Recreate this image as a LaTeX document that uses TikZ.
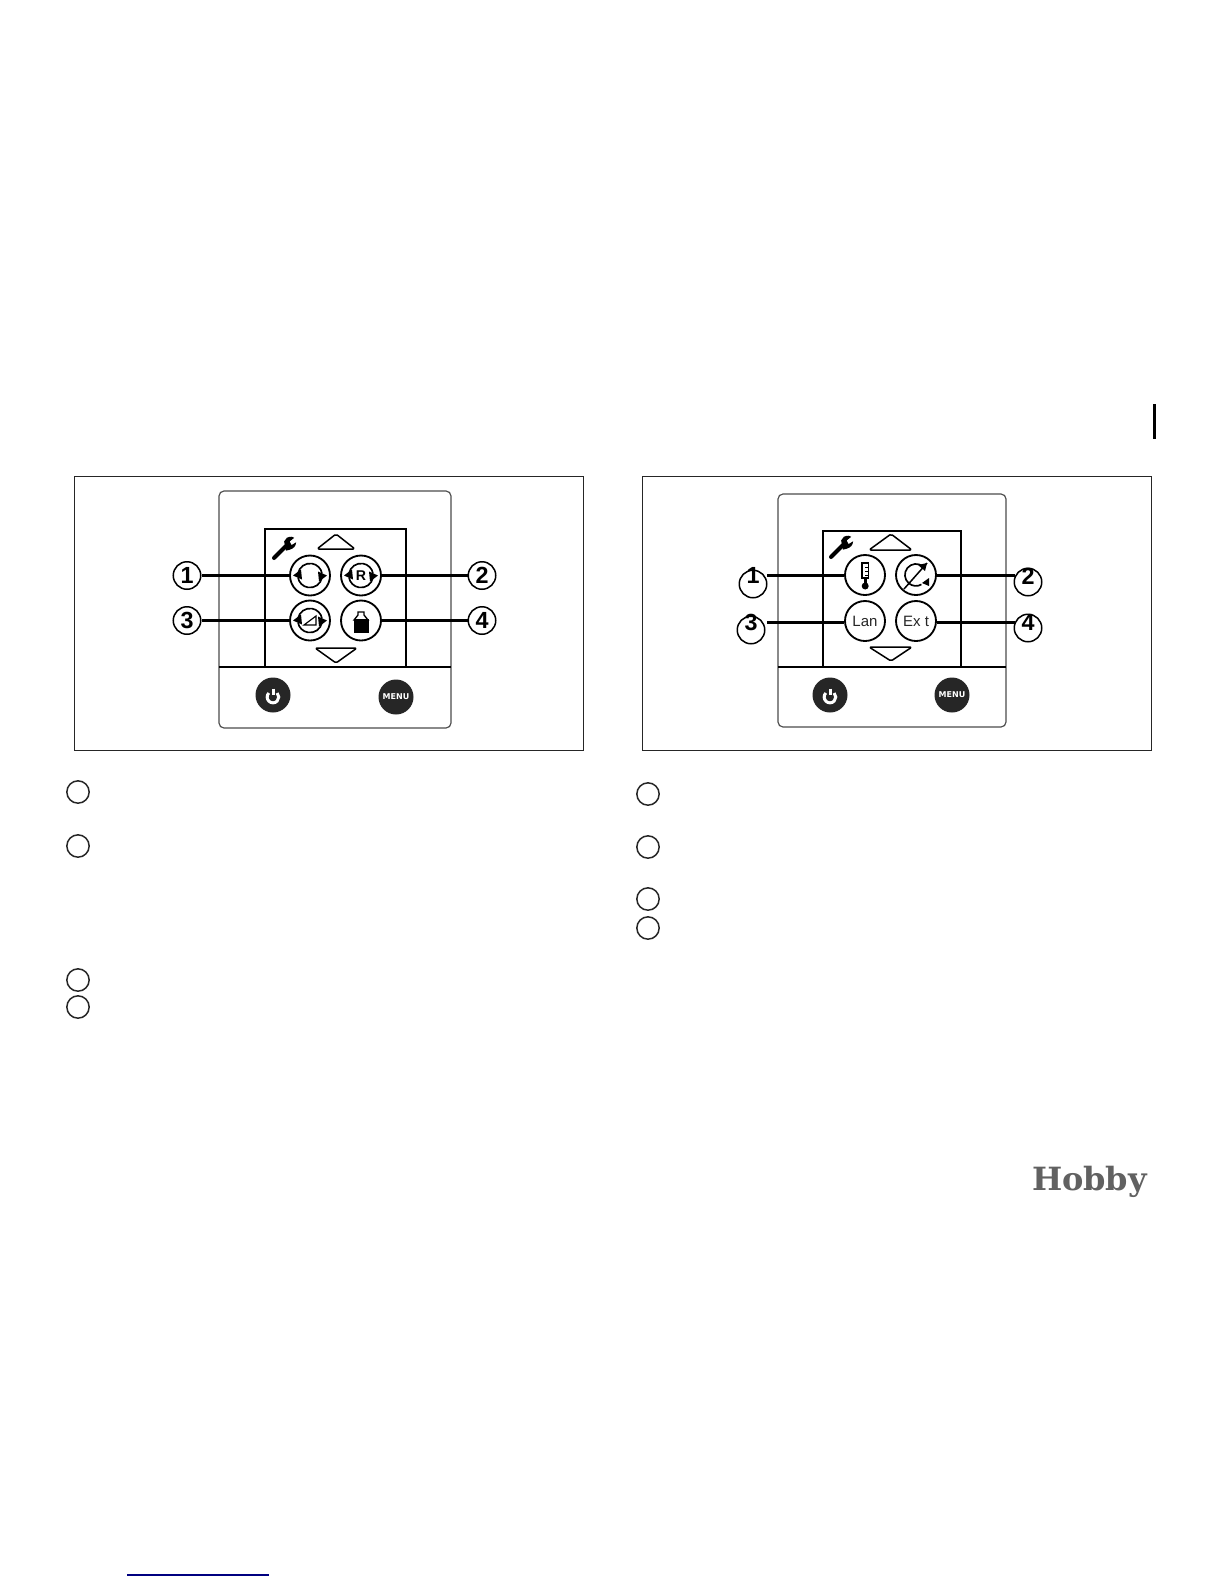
\documentclass[tikz,border=0pt]{standalone}
\usepackage{fontspec}
\setmainfont{Liberation Sans}
\newfontfamily\hobbyfont{DejaVu Serif}
\newfontfamily\menufont{DejaVu Sans}
\tikzset{
  x=0.6pt,y=-0.6pt,
  frame/.style={draw=black!85,line width=0.7pt},
  device/.style={draw=black!70,line width=0.7pt,rounded corners=3pt},
  screen/.style={draw=black,line width=1.2pt},
  keybtn/.style={circle,draw=black,line width=1.1pt,minimum size=24pt,inner sep=0pt,fill=white},
  numcirc/.style={circle,draw=black,line width=0.9pt,minimum size=16.5pt,inner sep=0pt,font=\bfseries\fontsize{14}{14}\selectfont},
  emptycirc/.style={circle,draw=black!85,line width=0.9pt,minimum size=13.4pt,inner sep=0pt},
  leader/.style={draw=black,line width=1.7pt},
  darkbtn/.style={circle,fill=black!85,minimum size=21pt,inner sep=0pt,text=white},
  tri/.style={draw=black,line width=0.9pt,rounded corners=1pt,line join=round},
  spin/.style={draw=black,line width=1pt},
  spinhead/.style={fill=black},
  wrench/.style={draw=black,line width=2.4pt,line cap=round},
  nobox/.style={inner sep=0pt,outer sep=0pt},
  menutext/.style={font=\menufont\bfseries\fontsize{4.8}{4.8}\selectfont},
  keytext/.style={font=\fontsize{9}{9}\selectfont,text=black!85},
  digit/.style={inner sep=0pt,outer sep=0pt,font=\bfseries\fontsize{14}{14}\selectfont},
}
\newcommand{\wrenchicon}[2]{%
  \begin{scope}[shift={(#1,#2)},scale=0.92]
    \draw[wrench] (0,0) -- (13,-13);
    \fill[black] (11,-18) -- (14,-22) .. controls (18,-24) and (21,-23) .. (22,-22) -- (17,-18) -- (19,-14) -- (24,-17) .. controls (24,-13) and (21,-10) .. (17,-9) -- (13,-8) -- cycle;
  \end{scope}}
\newcommand{\spinicon}[2]{%
  \begin{scope}[shift={(#1,#2)}]
    \draw[spin] (-12,-2) arc[start angle=-170,end angle=-10,radius=12.2];
    \draw[spin] (12,2) arc[start angle=10,end angle=170,radius=12.2];
    \fill[spinhead] (-17,0) -- (-9,-6) -- (-8,4) -- cycle;
    \fill[spinhead] (17,0) -- (9,6) -- (8,-4) -- cycle;
  \end{scope}}
\newcommand{\powericon}[2]{%
  \begin{scope}[shift={(#1,#2)}]
    \draw[white,line width=1.8pt] (-4.2,-4) arc[start angle=-136,end angle=-404,radius=5.8];
    \draw[white,line width=1.8pt] (0,-8.5) -- (0,-2);
  \end{scope}}
\begin{document}
\begin{tikzpicture}
\useasboundingbox (0,0) rectangle (1224,1584);
\fill[white] (0,0) rectangle (1224,1584);
% page marks
\fill[black] (1153,404) rectangle (1156,439);
\draw[draw=blue!50!black,line width=0.8pt] (127,1575) -- (269,1575);
% --- left panel ---
\draw[frame] (74.5,476.5) rectangle (583.5,750.4);
\draw[device] (219,491) rectangle (451,728);
\draw[screen] (265,667) -- (265,529) -- (406,529) -- (406,667);
\draw[screen] (219,667) -- (451,667);
\wrenchicon{274}{558}
\draw[tri] (336,534) -- (355,549) -- (317,549) -- cycle;
\draw[tri] (336,663) -- (357,648) -- (315,648) -- cycle;
\node[numcirc] (la) at (187,575.5) {1};
\node[numcirc] (lb) at (482,575.5) {2};
\node[numcirc] (lc) at (187,620.5) {3};
\node[numcirc] (ld) at (482,620.5) {4};
\node[keybtn] (ka) at (310,575.5) {};
\node[keybtn] (kb) at (361,575.5) {};
\node[keybtn] (kc) at (310,620.5) {};
\node[keybtn] (kd) at (361,620.5) {};
\draw[leader] (la) -- (ka);
\draw[leader] (lb) -- (kb);
\draw[leader] (lc) -- (kc);
\draw[leader] (ld) -- (kd);
\spinicon{310}{575.5}
\spinicon{361}{575.5}
\node[nobox,font=\bfseries\fontsize{8.5}{8.5}\selectfont] (tr) at (361,575.5) {R};
\spinicon{310}{620.5}
\draw[line width=0.7pt] (304,625) -- (316,616) -- (316,625) -- cycle;
\draw[line width=0.8pt] (358,615) -- (358,612) -- (364,612) -- (364,615) -- (368,620) -- (354,620) -- cycle;
\fill[black] (353.5,619) rectangle (368.5,633);
\node[darkbtn] (pl) at (273,695) {};
\powericon{273}{697}
\node[darkbtn,menutext] (ml) at (396,697) {MENU};
% bullets left
\node[emptycirc] (b1) at (78,792) {};
\node[emptycirc] (b2) at (78,846) {};
\node[emptycirc] (b3) at (78,980) {};
\node[emptycirc] (b4) at (78,1007) {};
% --- right panel ---
\draw[frame] (642.5,476.5) rectangle (1151.5,750.4);
\draw[device] (778,494) rectangle (1006,727);
\draw[screen] (823,667) -- (823,531) -- (961,531) -- (961,667);
\draw[screen] (778,667) -- (1006,667);
\wrenchicon{831}{557}
\draw[tri] (891,534) -- (912,550) -- (869,550) -- cycle;
\draw[tri] (891,661) -- (912,647) -- (869,647) -- cycle;
\node[numcirc] (ra) at (753,584) {};
\node[numcirc] (rb) at (1028,582) {};
\node[numcirc] (rc) at (751,630) {};
\node[numcirc] (rd) at (1028,628) {};
\node[keybtn] (qa) at (865,575) {};
\node[keybtn] (qb) at (916,575) {};
\node[keybtn,keytext] (qc) at (865,621) {Lan};
\node[keybtn,keytext] (qd) at (916,621) {Ex t};
\coordinate (ra1) at (767,575.5);
\coordinate (rb1) at (1015,575.5);
\coordinate (rc1) at (767,622.5);
\coordinate (rd1) at (1015,622.5);
\draw[leader] (ra1) -- (ra1 -| qa.west);
\draw[leader] (rb1) -- (rb1 -| qb.east);
\draw[leader] (rc1) -- (rc1 -| qc.west);
\draw[leader] (rd1) -- (rd1 -| qd.east);
\node[digit] (da) at (753,575) {1};
\node[digit] (db) at (1028,576) {2};
\node[digit] (dc) at (751,622) {3};
\node[digit] (dd) at (1028,622) {4};
% thermometer
\draw[line width=1pt,fill=white] (862,563) rectangle (868.5,578);
\fill[black] (863.5,578) rectangle (867,586);
\fill[black] (865.2,586) circle[radius=3.5];
\draw[line width=0.6pt] (865,567) -- (868,567) (865,571) -- (868,571) (865,575) -- (868,575);
% crossed curve icon
\draw[line width=1pt] (923,566.5) arc[start angle=-50,end angle=-300,radius=11];
\draw[line width=0.9pt] (904,589) -- (927,563);
\fill[black] (927,563) -- (918,565) -- (925,571) -- cycle;
\fill[black] (929,578) -- (922,583) -- (929,586) -- cycle;
\node[darkbtn] (pr) at (830,695) {};
\powericon{830}{697}
\node[darkbtn,menutext] (mr) at (952,695) {MENU};
% bullets right
\node[emptycirc] (c1) at (648,794) {};
\node[emptycirc] (c2) at (648,847) {};
\node[emptycirc] (c3) at (648,899) {};
\node[emptycirc] (c4) at (648,928) {};
% logo
\node[nobox,anchor=base west,text=black!62,font=\hobbyfont\bfseries\fontsize{19.2}{19.2}\selectfont] (logo) at (1032,1190) {Hobby};
\end{tikzpicture}
\end{document}
